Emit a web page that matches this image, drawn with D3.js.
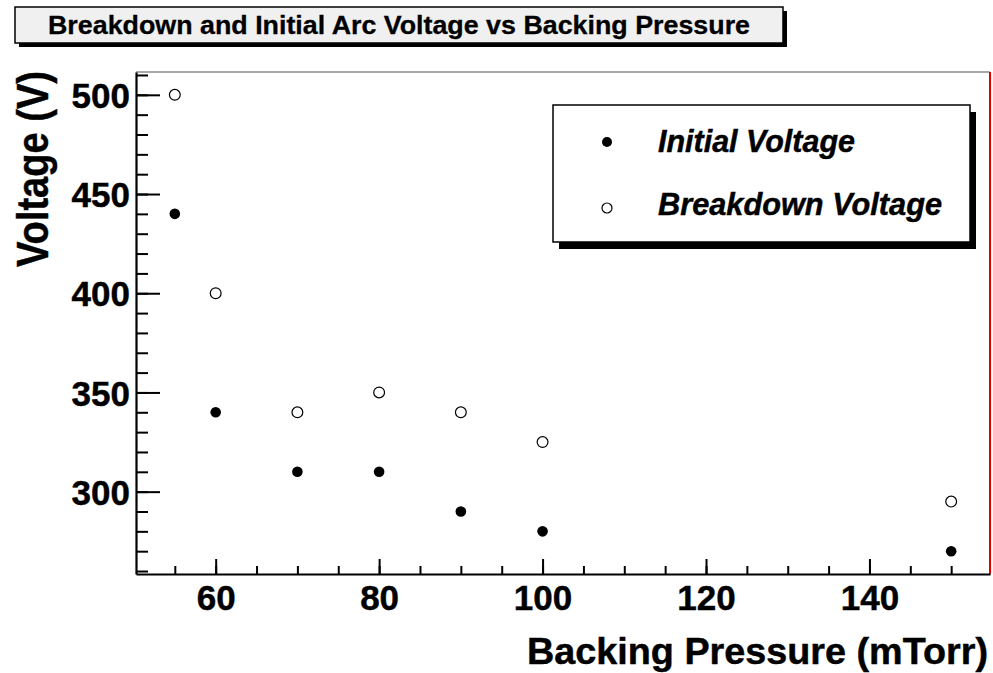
<!DOCTYPE html>
<html>
<head>
<meta charset="utf-8">
<script src="https://cdn.jsdelivr.net/npm/d3@7/dist/d3.min.js"></script>
<style>
  html, body { margin: 0; padding: 0; background: #fff; }
  svg { display: block; }
  text { font-family: "Liberation Sans", Arial, Helvetica, sans-serif; font-weight: bold; fill: #000; stroke: #000; stroke-width: 0.45px; }
</style>
</head>
<body>
<svg id="chart" width="993" height="673"></svg>
<script>
// Backing pressure (mTorr) at each measurement
const pressure = [55, 60, 70, 80, 90, 100, 150];
// Initial arc voltage (V)
const initialVoltage = [440, 340, 310, 310, 290, 280, 270];
// Breakdown voltage (V)
const breakdownVoltage = [500, 400, 340, 350, 340, 325, 295];

const xMajorTicks = [60, 80, 100, 120, 140];
const yMajorTicks = [300, 350, 400, 450, 500];
const xMinorTicks = d3.range(55, 151, 5);
const yMinorTicks = d3.range(260, 511, 10);

const titleText = "Breakdown and Initial Arc Voltage vs Backing Pressure";
const xTitle = "Backing Pressure (mTorr)";
const yTitle = "Voltage (V)";
const legendLabels = ["Initial Voltage", "Breakdown Voltage"];

const svg = d3.select("#chart");
const frame = { left: 136, right: 990, top: 72, bottom: 574 };

const x = d3.scaleLinear().domain([50.25, 154.75]).range([frame.left, frame.right]);
const y = d3.scaleLinear().domain([258.5, 511.5]).range([frame.bottom, frame.top]);

// Title box with drop shadow
const tb = { x: 15, y: 7, w: 768, h: 36 };
svg.append("rect").attr("x", tb.x + 4).attr("y", tb.y + 4).attr("width", tb.w).attr("height", tb.h).attr("fill", "#000");
svg.append("rect").attr("x", tb.x).attr("y", tb.y).attr("width", tb.w).attr("height", tb.h)
  .attr("fill", "#f0f0f0").attr("stroke", "#000").attr("stroke-width", 1.5);
svg.append("text").attr("x", tb.x + tb.w / 2).attr("y", tb.y + 27)
  .attr("text-anchor", "middle").attr("font-size", 26.5).style("stroke-width", "0.3px")
  .attr("textLength", 702).attr("lengthAdjust", "spacingAndGlyphs")
  .text(titleText);

// Frame: thin top edge, red right edge
svg.append("line").attr("x1", frame.left).attr("x2", frame.right).attr("y1", frame.top).attr("y2", frame.top)
  .attr("stroke", "#555").attr("stroke-width", 1);
svg.append("line").attr("x1", frame.right).attr("x2", frame.right).attr("y1", frame.top).attr("y2", frame.bottom)
  .attr("stroke", "#e00000").attr("stroke-width", 2);

// Y axis: major + minor ticks pointing inward
const yMinor = svg.append("g").attr("transform", `translate(${frame.left},0)`)
  .call(d3.axisLeft(y).tickValues(yMinorTicks).tickSize(-12).tickFormat(""));
yMinor.select(".domain").remove();
const yAxis = svg.append("g").attr("transform", `translate(${frame.left},0)`)
  .call(d3.axisLeft(y).tickValues(yMajorTicks).tickSizeInner(-24).tickSizeOuter(0).tickPadding(6).tickFormat(d3.format("d")));
yAxis.selectAll("text").attr("font-size", 35).attr("font-family", "Liberation Sans, Arial, sans-serif")
  .attr("font-weight", "bold").attr("dy", "0.36em");

// X axis: major + minor ticks pointing inward
const xMinor = svg.append("g").attr("transform", `translate(0,${frame.bottom})`)
  .call(d3.axisBottom(x).tickValues(xMinorTicks).tickSize(-8).tickFormat(""));
xMinor.select(".domain").remove();
const xAxis = svg.append("g").attr("transform", `translate(0,${frame.bottom})`)
  .call(d3.axisBottom(x).tickValues(xMajorTicks).tickSizeInner(-15).tickSizeOuter(0).tickPadding(11).tickFormat(d3.format("d")));
xAxis.selectAll("text").attr("font-size", 35).attr("font-family", "Liberation Sans, Arial, sans-serif")
  .attr("font-weight", "bold");

svg.selectAll(".tick line").attr("stroke", "#000").attr("stroke-width", 2);
svg.selectAll(".domain").attr("stroke", "#000").attr("stroke-width", 2.2);

// Axis titles
svg.append("text").attr("x", 988).attr("y", 664).attr("text-anchor", "end")
  .attr("font-size", 37).attr("textLength", 461).attr("lengthAdjust", "spacingAndGlyphs")
  .text(xTitle);
svg.append("text").attr("transform", "translate(48,169) rotate(-90)").attr("text-anchor", "middle")
  .attr("font-size", 44).attr("textLength", 196).attr("lengthAdjust", "spacingAndGlyphs")
  .text(yTitle);

// Data markers
const initialPts = pressure.map((p, i) => ({ p, v: initialVoltage[i] }));
const breakdownPts = pressure.map((p, i) => ({ p, v: breakdownVoltage[i] }));

svg.append("g").selectAll("circle").data(breakdownPts).join("circle")
  .attr("cx", d => x(d.p)).attr("cy", d => y(d.v)).attr("r", 5.4)
  .attr("fill", "#fff").attr("stroke", "#000").attr("stroke-width", 1.2);
svg.append("g").selectAll("circle").data(initialPts).join("circle")
  .attr("cx", d => x(d.p)).attr("cy", d => y(d.v)).attr("r", 5.3)
  .attr("fill", "#000");

// Legend box with drop shadow
const lb = { x: 553, y: 105, w: 417, h: 137 };
svg.append("rect").attr("x", lb.x + 6).attr("y", lb.y + 7).attr("width", lb.w).attr("height", lb.h).attr("fill", "#000");
svg.append("rect").attr("x", lb.x).attr("y", lb.y).attr("width", lb.w).attr("height", lb.h)
  .attr("fill", "#fff").attr("stroke", "#000").attr("stroke-width", 1.5);

const legendRows = [
  { label: legendLabels[0], filled: true, my: 142, ty: 152, len: 197 },
  { label: legendLabels[1], filled: false, my: 208, ty: 215, len: 284 }
];
legendRows.forEach(r => {
  svg.append("circle").attr("cx", 607).attr("cy", r.my).attr("r", 5)
    .attr("fill", r.filled ? "#000" : "#fff").attr("stroke", "#000").attr("stroke-width", r.filled ? 0 : 1.2);
  svg.append("text").attr("x", 658).attr("y", r.ty).attr("font-size", 30.5).attr("font-style", "italic")
    .attr("textLength", r.len).attr("lengthAdjust", "spacingAndGlyphs")
    .text(r.label);
});
</script>
</body>
</html>
